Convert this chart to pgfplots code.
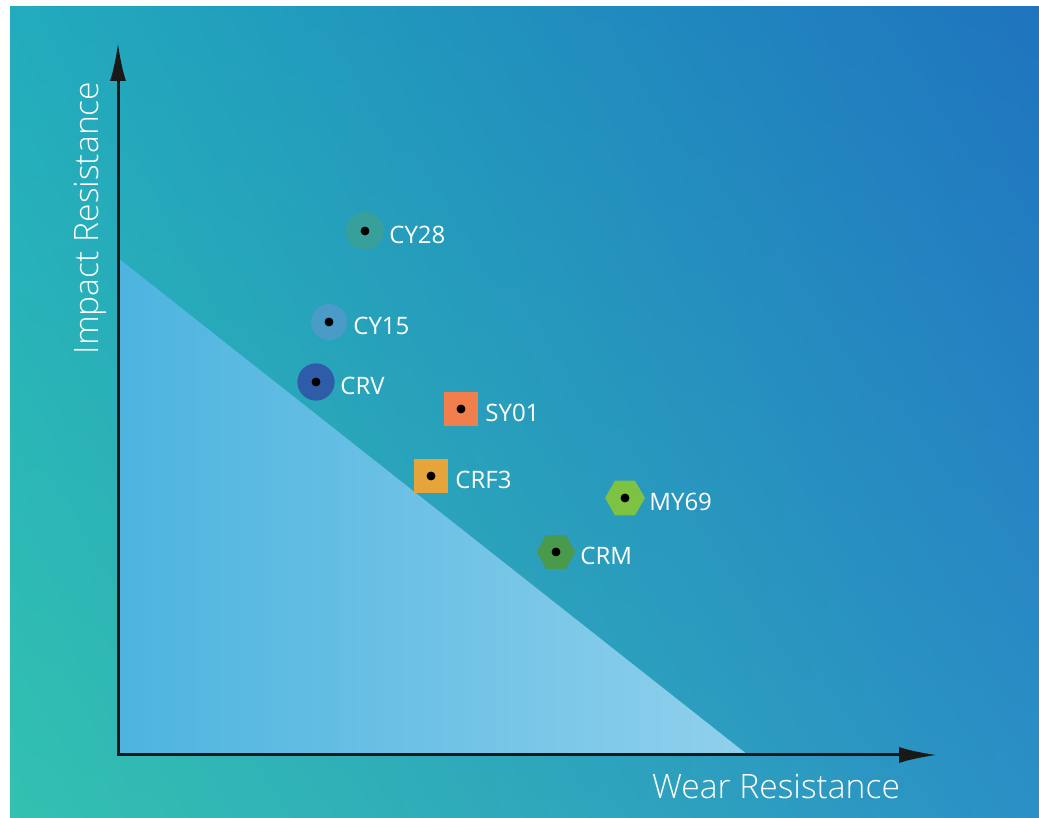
\documentclass[border=0pt]{standalone}
\usepackage{fontspec}
\setmainfont{Open Sans}
\newfontfamily\lightfont{Open Sans Light}
\usepackage{pgfplots}
\pgfplotsset{compat=1.18}
\usetikzlibrary{arrows.meta,shadings}
\definecolor{bgUL}{HTML}{22ABBD}
\definecolor{bgUR}{HTML}{1F74BE}
\definecolor{bgLL}{HTML}{33C1B0}
\definecolor{bgLR}{HTML}{2B90C6}
\definecolor{triL}{HTML}{4DB4DF}
\definecolor{triR}{HTML}{90D0EC}
\definecolor{cCY28}{HTML}{38A09B}
\definecolor{cCY15}{HTML}{4B9BC9}
\definecolor{cCRV}{HTML}{2F5CA8}
\definecolor{cSY01}{HTML}{F07F4C}
\definecolor{cCRF3}{HTML}{E6A53A}
\definecolor{cMY69}{HTML}{7DC242}
\definecolor{cCRM}{HTML}{4A9A4E}
\pgfdeclareplotmark{hexagon*}{%
  \pgfpathmoveto{\pgfqpoint{\pgfplotmarksize}{0pt}}%
  \pgfpathlineto{\pgfqpoint{0.5\pgfplotmarksize}{0.866\pgfplotmarksize}}%
  \pgfpathlineto{\pgfqpoint{-0.5\pgfplotmarksize}{0.866\pgfplotmarksize}}%
  \pgfpathlineto{\pgfqpoint{-\pgfplotmarksize}{0pt}}%
  \pgfpathlineto{\pgfqpoint{-0.5\pgfplotmarksize}{-0.866\pgfplotmarksize}}%
  \pgfpathlineto{\pgfqpoint{0.5\pgfplotmarksize}{-0.866\pgfplotmarksize}}%
  \pgfpathclose
  \pgfusepathqfill}
\begin{document}
\begin{tikzpicture}
\begin{axis}[
  x=0.5pt, y=0.5pt,
  xmin=-118, xmax=921, ymin=-63, ymax=755,
  hide axis, clip=false, scale only axis,
]
\fill[white] (axis cs:-118,-63) rectangle (axis cs:921,755);
\shade[upper left=bgUL, upper right=bgUR, lower left=bgLL, lower right=bgLR]
  (axis cs:-108,-63) rectangle (axis cs:921,748);
% light triangle
\addplot[draw=none, left color=triL, right color=triR] coordinates {(0,0) (0,497) (630,0)} \closedcycle;
% axes arrows
\draw[line width=1.5pt, color=black!90, line join=miter,
  {Latex[length=19pt,width=8pt]}-{Latex[length=19pt,width=8pt]}]
  (axis cs:0,712) -- (axis cs:0,0) -- (axis cs:819,0);
% markers
\addplot[cCY28, only marks, mark=*, mark size=9.3pt, mark options={draw=cCY28, fill=cCY28}] coordinates {(247,524)};
\addplot[cCY15, only marks, mark=*, mark size=8.8pt, mark options={draw=cCY15, fill=cCY15}] coordinates {(211,433)};
\addplot[cCRV, only marks, mark=*, mark size=9.1pt, mark options={draw=cCRV, fill=cCRV}] coordinates {(198,373)};
\addplot[cSY01, only marks, mark=square*, mark size=8.1pt, mark options={draw=cSY01, fill=cSY01}] coordinates {(343,346)};
\addplot[cCRF3, only marks, mark=square*, mark size=8.1pt, mark options={draw=cCRF3, fill=cCRF3}] coordinates {(313,279)};
\addplot[cMY69, only marks, mark=hexagon*, mark size=10pt, mark options={fill=cMY69}] coordinates {(507,257)};
\addplot[cCRM, only marks, mark=hexagon*, mark size=9.75pt, mark options={fill=cCRM}] coordinates {(438,203)};
% center dots and labels
\addplot[black, only marks, mark=*, mark size=2pt, mark options={fill=black},
  point meta=explicit symbolic, nodes near coords,
  nodes near coords style={anchor=west, inner sep=0pt, xshift=12pt, yshift=-2pt,
    text=white, font=\fontsize{12}{14}\selectfont}]
  coordinates {
  (247,524) [CY28]
  (211,433) [CY15]
  (198,373) [CRV]
  (343,346) [SY01]
  (313,279) [CRF3]
  (507,257) [MY69]
  (438,203) [CRM]
  };
\node[rotate=90, anchor=base, inner sep=0pt, text=white, font=\lightfont\fontsize{16.8}{20}\selectfont]
  at (axis cs:-20,537) {Impact Resistance};
\node[anchor=base, inner sep=0pt, text=white, font=\lightfont\fontsize{16.8}{20}\selectfont]
  at (axis cs:658,-44) {Wear Resistance};
\end{axis}
\end{tikzpicture}
\end{document}
